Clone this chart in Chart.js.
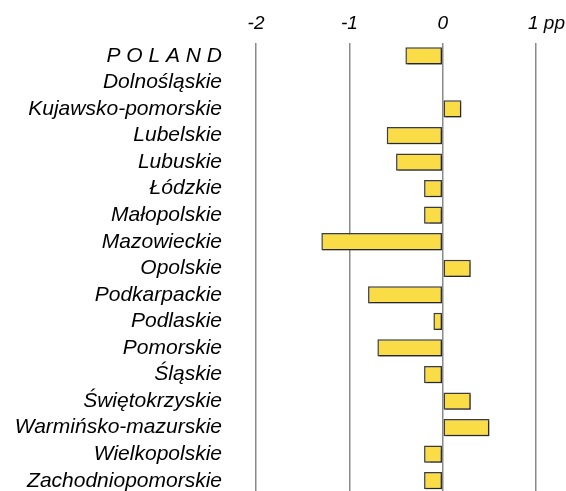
<!DOCTYPE html>
<html>
<head>
<meta charset="utf-8">
<script src="https://cdn.jsdelivr.net/npm/chart.js@4"></script>
<style>
  html, body { margin: 0; padding: 0; background: #fff; overflow: hidden; }
  canvas { display: block; }
</style>
</head>
<body>
<canvas id="c" width="566" height="494"></canvas>
<script>
const regions = [
  "P O L A N D", "Dolnośląskie", "Kujawsko-pomorskie", "Lubelskie", "Lubuskie",
  "Łódzkie", "Małopolskie", "Mazowieckie", "Opolskie", "Podkarpackie",
  "Podlaskie", "Pomorskie", "Śląskie", "Świętokrzyskie", "Warmińsko-mazurskie",
  "Wielkopolskie", "Zachodniopomorskie"
];
const changePP = [
  -0.4, 0.0, 0.2, -0.6, -0.5,
  -0.2, -0.2, -1.3, 0.3, -0.8,
  -0.1, -0.7, -0.2, 0.3, 0.5,
  -0.2, -0.2
];
const xTickValues = [-2, -1, 0, 1];
const unitLabel = "pp";
const FONT = "'Liberation Sans', Arial, sans-serif";
const LAST_TICK = xTickValues[xTickValues.length - 1];

const shadowPlugin = {
  id: 'barShadow',
  beforeDatasetsDraw(chart) {
    const ctx = chart.ctx;
    ctx.save();
    ctx.shadowColor = 'rgba(0,0,0,0.35)';
    ctx.shadowOffsetX = 1.5;
    ctx.shadowOffsetY = 1.5;
    ctx.shadowBlur = 1;
  },
  afterDatasetsDraw(chart) {
    chart.ctx.restore();
  }
};

// Draws the last tick together with its unit ("1 pp"), kept inside the canvas like the original
const unitPlugin = {
  id: 'unitSuffix',
  afterDraw(chart) {
    const scale = chart.scales.x;
    const items = scale.getLabelItems();
    const ref = items.find(it => it.label !== '');
    if (!ref) return;
    const ctx = chart.ctx;
    ctx.save();
    ctx.font = ref.font.string;
    ctx.fillStyle = '#000';
    ctx.textAlign = 'right';
    ctx.textBaseline = ref.options.textBaseline;
    ctx.fillText(LAST_TICK + ' ' + unitLabel, chart.width - 1, ref.options.translation[1] + ref.textOffset);
    ctx.restore();
  }
};

new Chart(document.getElementById('c'), {
  type: 'bar',
  data: {
    labels: regions,
    datasets: [{
      data: changePP,
      backgroundColor: '#FADC46',
      borderColor: '#3c3c3c',
      borderWidth: 1.5,
      borderSkipped: false,
      categoryPercentage: 1.0,
      barPercentage: 0.65
    }]
  },
  options: {
    indexAxis: 'y',
    responsive: false,
    animation: false,
    layout: { padding: { top: 11, right: 0, bottom: 0, left: 0 } },
    plugins: { legend: { display: false }, tooltip: { enabled: false } },
    scales: {
      x: {
        position: 'top',
        min: -2,
        max: 1.32,
        afterBuildTicks(scale) {
          scale.ticks = xTickValues.map(v => ({ value: v }));
        },
        afterFit(scale) { scale.height = 31.6; scale.paddingLeft = 0; scale.paddingRight = 0; },
        grid: { color: '#8a8a8a', lineWidth: 1.5, drawTicks: false },
        border: { display: false },
        ticks: {
          padding: 7,
          color: '#000',
          maxRotation: 0,
          font: { family: FONT, size: 19, style: 'italic' },
          callback: v => (v === LAST_TICK ? '' : String(v))
        }
      },
      y: {
        afterFit(scale) { scale.width = 256; scale.paddingTop = 0; scale.paddingBottom = 0; },
        grid: { display: false, drawTicks: false },
        border: { display: false },
        ticks: {
          padding: 34,
          autoSkip: false,
          color: '#000',
          font: { family: FONT, size: 21, style: 'italic' }
        }
      }
    }
  },
  plugins: [shadowPlugin, unitPlugin]
});
</script>
</body>
</html>
